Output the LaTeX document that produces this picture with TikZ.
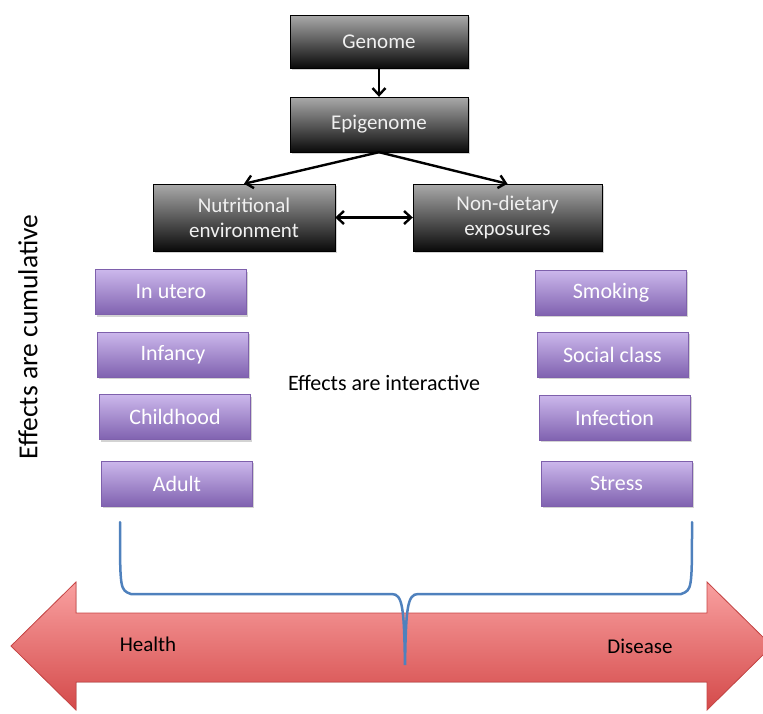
\documentclass[tikz,border=0pt]{standalone}
\usepackage{fontspec}
\setmainfont{Carlito}
\usetikzlibrary{arrows.meta,shadows}
\definecolor{boxgray}{RGB}{170,170,170}
\definecolor{boxblack}{RGB}{10,10,10}
\definecolor{lilactop}{RGB}{204,184,236}
\definecolor{lilacbot}{RGB}{128,98,176}
\definecolor{lilacline}{RGB}{126,96,172}
\definecolor{redtop}{RGB}{249,160,160}
\definecolor{redbot}{RGB}{212,74,74}
\definecolor{redline}{RGB}{200,70,70}
\definecolor{bracecol}{RGB}{79,129,189}

\begin{document}
\begin{tikzpicture}[x=1pt, y=-1pt,
                    darkbox/.style={draw=black, top color=boxgray, bottom color=boxblack, text=white!94!black, align=center, inner sep=0pt, font=\fontsize{21}{25}\selectfont, drop shadow={shadow xshift=1.5pt, shadow yshift=-2pt, opacity=.35}},
                    lilacbox/.style={draw=lilacline, top color=lilactop, bottom color=lilacbot, text=white, minimum width=151pt, minimum height=45pt, inner sep=0pt, font=\fontsize{22}{26}\selectfont, drop shadow={shadow xshift=1.5pt, shadow yshift=-2pt, opacity=.35}},
                    link/.style={line width=2.4pt, -{Straight Barb[length=7pt, width=13pt]}}]
                    \useasboundingbox (0,0) rectangle (763,713);
                    
                    \fill[top color=redtop, bottom color=redbot, draw=redline, line width=0.8pt] (11,646) -- (76,582) -- (76,613) -- (707,613) -- (707,582) -- (772,646) -- (707,710) -- (707,682) -- (76,682) -- (76,710) -- cycle;
                    \node[font=\fontsize{21}{25}\selectfont] (health) at (148,644) {Health};
                    \node[font=\fontsize{21}{25}\selectfont] (disease) at (640,646) {Disease};
                    
                    \node[darkbox, minimum width=178pt, minimum height=53pt] (genome) at (379,41.5) {Genome};
                    \node[darkbox, minimum width=178pt, minimum height=55pt] (epigenome) at (379,124.5) {Epigenome};
                    \node[darkbox, minimum width=182pt, minimum height=67pt] (nutrition) at (244,217.5) {Nutritional\\environment};
                    \node[darkbox, minimum width=189pt, minimum height=67pt] (nondiet) at (507.5,217.5) {Non-dietary\\exposures};
                    
                    \draw[link] (genome) -- (epigenome);
                    \draw[link] (epigenome.south) -- (nutrition.north);
                    \draw[link] (epigenome.south) -- (nondiet.north);
                    \draw[link, {Straight Barb[length=7pt, width=13pt]}-{Straight Barb[length=7pt, width=13pt]}] (nutrition) -- (nondiet);
                    
                    \node[lilacbox] (utero) at (171,292) {In utero};
                    \node[lilacbox] (infancy) at (173,354.5) {Infancy};
                    \node[lilacbox] (childhood) at (175,417) {Childhood};
                    \node[lilacbox] (adult) at (177,483.5) {Adult};
                    
                    \node[lilacbox] (smoking) at (611,292.5) {Smoking};
                    \node[lilacbox] (social) at (612.5,354.5) {Social class};
                    \node[lilacbox] (infection) at (614.5,417.5) {Infection};
                    \node[lilacbox] (stress) at (616.5,483.5) {Stress};
                    
                    \node[font=\fontsize{22}{26}\selectfont] (interactive) at (384,383) {Effects are interactive};
                    \node[font=\fontsize{27.5}{32}\selectfont, rotate=90] (cumulative) at (28,337) {Effects are cumulative};
                    
                    \draw[bracecol, line width=2.5pt, line cap=round] (120,522) .. controls (120,590) .. (131,594) -- (392,594) .. controls (403,594) and (404,610) .. (405,665) .. controls (406,610) and (407,594) .. (418,594) -- (681,594) .. controls (692,590) .. (692,522);
                \end{tikzpicture}
\end{document}
